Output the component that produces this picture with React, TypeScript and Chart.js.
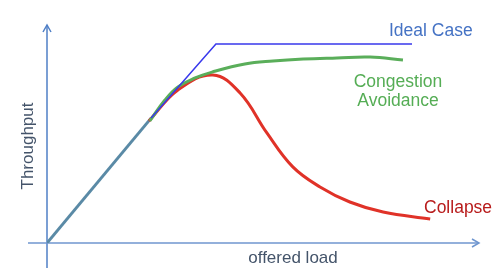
import React, { useEffect, useRef } from "react";
import { Chart, registerables } from "chart.js";

Chart.register(...registerables);

// Offered load (x) and throughput (y), arbitrary units 0..10
const sharedLoad = [0, 2.41];
const sharedThroughput = [0, 5.73];

const idealLoad = [2.41, 3.91, 8.45];
const idealThroughput = [5.73, 9.13, 9.13];

const avoidLoad = [2.38, 2.73, 3.03, 3.43, 3.82, 4.58, 5.23, 5.93, 6.71, 7.48, 8.24];
const avoidThroughput = [5.6, 6.56, 7.16, 7.57, 7.84, 8.21, 8.35, 8.44, 8.49, 8.53, 8.39];

const collapseLoad = [2.36, 3.03, 3.84, 4.47, 5.09, 5.69, 6.32, 7.01, 7.78, 8.87];
const collapseThroughput = [5.6, 7.02, 7.71, 6.88, 5.05, 3.49, 2.57, 1.88, 1.42, 1.1];

const seriesLabels = ["Ideal Case", "Congestion", "Avoidance", "Collapse"];
const xTitle = "offered load";
const yTitle = "Throughput";

const pts = (xs: number[], ys: number[]) => xs.map((x, i) => ({ x, y: ys[i] }));

const decorPlugin = {
  id: "decor",
  beforeDatasetsDraw(chart: any) {
    const { ctx, scales } = chart;
    const x0 = scales.x.getPixelForValue(0);
    const y0 = scales.y.getPixelForValue(0);
    const xEnd = scales.x.getPixelForValue(10);
    const yTop = scales.y.getPixelForValue(10);
    ctx.save();
    ctx.lineWidth = 1.5;
    // y axis
    ctx.strokeStyle = "#4f7fc6";
    ctx.beginPath();
    ctx.moveTo(x0, y0 + 25);
    ctx.lineTo(x0, yTop);
    ctx.stroke();
    ctx.beginPath();
    ctx.moveTo(x0 - 4, yTop + 7);
    ctx.lineTo(x0, yTop);
    ctx.lineTo(x0 + 4, yTop + 7);
    ctx.stroke();
    // x axis
    ctx.strokeStyle = "#6f96cf";
    ctx.beginPath();
    ctx.moveTo(x0 - 19, y0);
    ctx.lineTo(xEnd, y0);
    ctx.stroke();
    ctx.beginPath();
    ctx.moveTo(xEnd - 7, y0 - 4);
    ctx.lineTo(xEnd, y0);
    ctx.lineTo(xEnd - 7, y0 + 4);
    ctx.stroke();
    ctx.restore();
  },
  afterDatasetsDraw(chart: any) {
    const { ctx } = chart;
    ctx.save();
    ctx.textBaseline = "middle";
    ctx.font = "17.5px 'Liberation Sans', Arial, sans-serif";
    ctx.fillStyle = "#4472c4";
    ctx.textAlign = "left";
    ctx.fillText(seriesLabels[0], 389, 31);
    ctx.fillStyle = "#55ad55";
    ctx.textAlign = "center";
    ctx.fillText(seriesLabels[1], 398, 82);
    ctx.fillText(seriesLabels[2], 398, 101);
    ctx.fillStyle = "#b81c1c";
    ctx.textAlign = "left";
    ctx.fillText(seriesLabels[3], 424, 208);
    ctx.font = "17px 'Liberation Sans', Arial, sans-serif";
    ctx.fillStyle = "#44546a";
    ctx.textAlign = "center";
    ctx.fillText(xTitle, 293, 258);
    ctx.translate(28, 146);
    ctx.rotate(-Math.PI / 2);
    ctx.fillText(yTitle, 0, 0);
    ctx.restore();
  },
};

export default function App() {
  const ref = useRef<HTMLCanvasElement>(null);
  useEffect(() => {
    if (!ref.current) return;
    const chart = new Chart(ref.current, {
      type: "line",
      data: {
        datasets: [
          {
            data: pts(idealLoad, idealThroughput),
            borderColor: "#3838ec",
            borderWidth: 1.5,
            pointRadius: 0,
            tension: 0,
          },
          {
            data: pts(avoidLoad, avoidThroughput),
            borderColor: "#5aae5a",
            borderWidth: 3,
            pointRadius: 0,
            tension: 0.4,
          },
          {
            data: pts(collapseLoad, collapseThroughput),
            borderColor: "#e03228",
            borderWidth: 3,
            pointRadius: 0,
            tension: 0.4,
          },
          {
            data: pts(sharedLoad, sharedThroughput),
            borderColor: "#5a8aa6",
            borderWidth: 3,
            pointRadius: 0,
            tension: 0,
          },
        ],
      },
      options: {
        responsive: false,
        animation: false,
        layout: { padding: { left: 47, right: 22, top: 25, bottom: 37 } },
        plugins: { legend: { display: false }, tooltip: { enabled: false } },
        scales: {
          x: { type: "linear", min: 0, max: 10, display: false },
          y: { type: "linear", min: 0, max: 10, display: false },
        },
      },
      plugins: [decorPlugin],
    });
    return () => chart.destroy();
  }, []);
  return (
    <div style={{ position: "absolute", left: 0, top: 0, width: 501, height: 280 }}>
      <canvas ref={ref} width={501} height={280} />
    </div>
  );
}
